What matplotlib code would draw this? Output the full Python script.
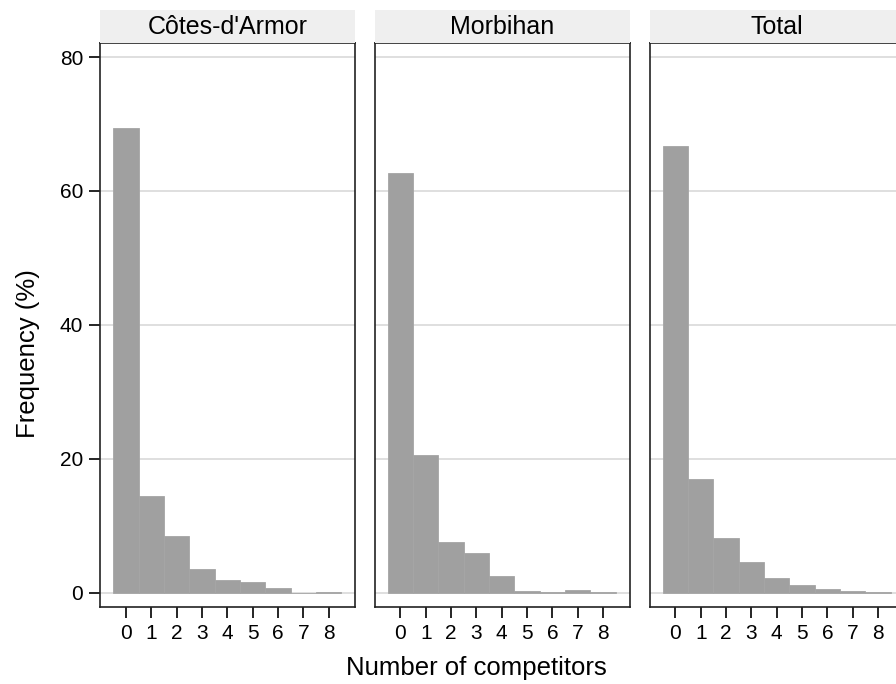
import numpy as np
import matplotlib
matplotlib.use('Agg')
import matplotlib.pyplot as plt

plt.rcParams['font.family'] = ['Liberation Sans', 'DejaVu Sans']

# Share of establishments (%) by number of competitors, per area
competitors = np.arange(0, 9)
panels = ["Côtes-d'Armor", "Morbihan", "Total"]
freq_cotes = [69.4, 14.5, 8.4, 3.5, 1.9, 1.6, 0.7, 0.0, 0.1]
freq_morbihan = [62.7, 20.6, 7.6, 6.0, 2.5, 0.25, 0.15, 0.4, 0.1]
freq_total = [66.7, 17.0, 8.1, 4.6, 2.2, 1.2, 0.55, 0.25, 0.1]
y_ticks = [0, 20, 40, 60, 80]

W, H = 896, 684
fig = plt.figure(figsize=(W / 100, H / 100), dpi=100)

lefts = [100, 374.5, 649.5]
pw = 255
ax_bottom, ax_top = 607, 43
strip_top = 10

for i, (name, freq) in enumerate(zip(panels, [freq_cotes, freq_morbihan, freq_total])):
    x0 = lefts[i]
    ax = fig.add_axes([x0 / W, (H - ax_bottom) / H, pw / W, (ax_bottom - ax_top) / H])
    ax.bar(competitors, freq, width=1.0, color='#a0a0a0', edgecolor='#a5a5a5',
           linewidth=0.6, zorder=2)
    ax.set_xlim(-1.02, 9.04)
    ax.set_ylim(-2.14, 82.1)
    ax.set_xticks(competitors)
    ax.set_yticks(y_ticks)
    ax.yaxis.grid(True, color='#dcdcdc', linewidth=1.3, zorder=0)
    ax.set_axisbelow(True)
    for s in ax.spines.values():
        s.set_linewidth(1.2)
        s.set_color('#222222')
    ax.tick_params(axis='both', direction='out', length=8, width=1.2,
                   labelsize=15, colors='black', pad=4)
    if i > 0:
        ax.tick_params(axis='y', left=False, labelleft=False)

    # facet strip
    sax = fig.add_axes([x0 / W, (H - ax_top) / H, pw / W, (ax_top - strip_top) / H])
    sax.set_facecolor('#efefef')
    sax.set_xticks([])
    sax.set_yticks([])
    for s in sax.spines.values():
        s.set_visible(False)
    sax.text(0.5, 0.47, name, ha='center', va='center', fontsize=18,
             transform=sax.transAxes)

fig.text(476 / W, 1 - 668 / H, 'Number of competitors', ha='center', va='center',
         fontsize=18.5)
fig.text(28 / W, 1 - 354 / H, 'Frequency (%)', ha='center', va='center',
         rotation=90, fontsize=18.5)

fig.savefig('out.png', dpi=100)
